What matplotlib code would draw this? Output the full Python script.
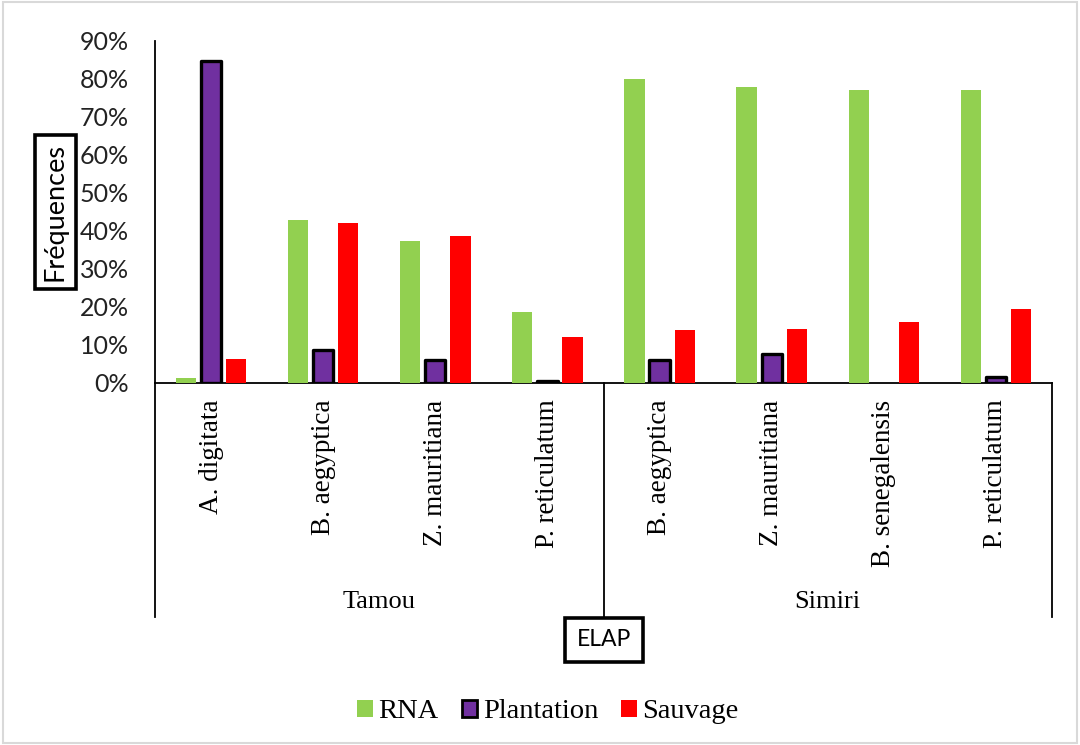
import matplotlib
matplotlib.use("Agg")
import matplotlib.pyplot as plt
import matplotlib.transforms as mtransforms
from matplotlib.patches import Rectangle, Patch
from matplotlib.ticker import PercentFormatter
import numpy as np

species = ["A. digitata", "B. aegyptica", "Z. mauritiana", "P. reticulatum",
           "B. aegyptica", "Z. mauritiana", "B. senegalensis", "P. reticulatum"]
sites = ["Tamou", "Simiri"]
site_sizes = [4, 4]
series_names = ["RNA", "Plantation", "Sauvage"]
rna = [1.2, 43.0, 37.4, 18.8, 79.9, 78.0, 77.1, 77.1]
plantation = [84.7, 8.6, 6.0, 0.5, 6.0, 7.6, 0.0, 1.6]
sauvage = [6.2, 42.2, 38.7, 12.0, 13.9, 14.1, 16.1, 19.5]
y_ticks = [0, 10, 20, 30, 40, 50, 60, 70, 80, 90]

colors = ["#92D050", "#7030A0", "#FF0000"]

fig = plt.figure(figsize=(10.8, 7.45), dpi=100)
fig.patches.append(Rectangle((0.003, 0.003), 0.994, 0.994, transform=fig.transFigure,
                             fill=False, edgecolor="#D9D9D9", lw=1.5))
ax = fig.add_axes([155/1080, 1-383/745, (1052-155)/1080, (383-41)/745])

x = np.arange(len(species))
w = 0.18
off = 0.224
ax.bar(x - off, np.array(rna)/100, width=w, color=colors[0], zorder=3)
pl = np.array(plantation)/100
bars = ax.bar(x, pl, width=w, color=colors[1], edgecolor="black", linewidth=2.4, zorder=3)
for b, v in zip(bars, pl):
    if v == 0:
        b.set_linewidth(0)
    b.set_joinstyle("round")
ax.bar(x + off, np.array(sauvage)/100, width=w, color=colors[2], zorder=3)

ax.set_xlim(-0.5, len(species) - 0.5)
ax.set_ylim(0, 0.9)
ax.set_yticks(np.array(y_ticks)/100)
ax.yaxis.set_major_formatter(PercentFormatter(1.0, decimals=0))
for lab in ax.get_yticklabels():
    lab.set_fontfamily("Lato")
    lab.set_fontsize(18)
    lab.set_color("#222222")
ax.tick_params(axis="y", length=0, pad=19)
ax.tick_params(axis="x", length=0)
ax.set_xticks(x)
ax.set_xticklabels(species, rotation=90, fontfamily="Liberation Serif", fontsize=19.5, va="top")
ax.tick_params(axis="x", pad=12)

for s in ["top", "right"]:
    ax.spines[s].set_visible(False)
ax.spines["left"].set_linewidth(1.3)
ax.spines["bottom"].set_linewidth(1.3)

# Category-axis separators
trans = mtransforms.blended_transform_factory(ax.transData, ax.transAxes)
ybot = -(617 - 383) / (383 - 41)
bounds = [-0.5]
for n in site_sizes:
    bounds.append(bounds[-1] + n)
for bx in bounds:
    ax.plot([bx, bx], [0, ybot], transform=trans, color="black", lw=1.3, clip_on=False)
start = -0.5
for name, n in zip(sites, site_sizes):
    ax.text(start + n/2, -(602 - 383) / (383 - 41), name, transform=trans, ha="center", va="center",
            fontfamily="Liberation Serif", fontsize=19)
    start += n

# Axis titles in boxes
fig.text(55.5/1080, 1-212/745, "Fréquences", rotation=90, ha="center", va="center",
         fontfamily="Lato", fontsize=19.5,
         bbox=dict(boxstyle="square,pad=0.3", facecolor="white", edgecolor="black", lw=2.6))
fig.text(604/1080, 1-640/745, "ELAP", ha="center", va="center",
         fontfamily="Lato", fontsize=16.5,
         bbox=dict(boxstyle="square,pad=0.5", facecolor="white", edgecolor="black", lw=2.6))

handles = [Patch(facecolor=colors[0], edgecolor="none"),
           Patch(facecolor=colors[1], edgecolor="black", linewidth=2),
           Patch(facecolor=colors[2], edgecolor="none")]
fig.legend(handles, series_names, loc="center", bbox_to_anchor=(548/1080, 1-712/745), ncol=3,
           frameon=False, prop={"family": "Liberation Serif", "size": 20.5},
           handlelength=0.55, handleheight=0.55, handletextpad=0.2, columnspacing=0.8)

fig.savefig("out.png", dpi=100)
